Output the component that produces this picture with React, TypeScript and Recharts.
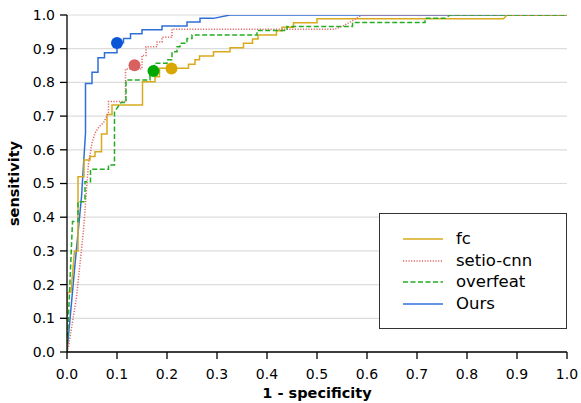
import React from 'react';
import { ComposedChart, Line, Scatter, XAxis, YAxis, CartesianGrid, Legend } from 'recharts';

const axisTicks = [0, 0.1, 0.2, 0.3, 0.4, 0.5, 0.6, 0.7, 0.8, 0.9, 1.0];

const oursRoc: [number, number][] = [
  [0, 0], [0.016, 0.26], [0.029, 0.46], [0.037, 0.65], [0.037, 0.797], [0.05, 0.797], [0.05, 0.83],
  [0.062, 0.83], [0.062, 0.873], [0.075, 0.873], [0.075, 0.888], [0.1, 0.888], [0.1, 0.918],
  [0.113, 0.918], [0.113, 0.93], [0.127, 0.93], [0.127, 0.944], [0.15, 0.944], [0.15, 0.956],
  [0.19, 0.956], [0.19, 0.967], [0.24, 0.967], [0.24, 0.979], [0.266, 0.979], [0.266, 0.99],
  [0.293, 0.99], [0.326, 1.0], [1, 1],
];

const fcRoc: [number, number][] = [
  [0, 0], [0, 0.175], [0.008, 0.178], [0.015, 0.3], [0.022, 0.3], [0.022, 0.52], [0.034, 0.52],
  [0.034, 0.57], [0.046, 0.57], [0.046, 0.58], [0.056, 0.58], [0.056, 0.594], [0.069, 0.594],
  [0.069, 0.647], [0.08, 0.647], [0.08, 0.705], [0.09, 0.705], [0.09, 0.733], [0.151, 0.733],
  [0.151, 0.802], [0.176, 0.802], [0.176, 0.817], [0.185, 0.817], [0.185, 0.842], [0.243, 0.842],
  [0.243, 0.854], [0.256, 0.854], [0.256, 0.867], [0.265, 0.867], [0.265, 0.878], [0.293, 0.878],
  [0.293, 0.891], [0.326, 0.891], [0.326, 0.903], [0.353, 0.903], [0.353, 0.916], [0.371, 0.916],
  [0.371, 0.929], [0.382, 0.929], [0.382, 0.941], [0.419, 0.941], [0.419, 0.953], [0.43, 0.953],
  [0.43, 0.964], [0.453, 0.964], [0.453, 0.977], [0.5, 0.977], [0.5, 0.989], [0.873, 0.989],
  [0.88, 1], [1, 1],
];

const setioRoc: [number, number][] = [
  [0, 0], [0.003, 0.015], [0.019, 0.163], [0.033, 0.362], [0.043, 0.56], [0.05, 0.62], [0.056, 0.65],
  [0.065, 0.67], [0.073, 0.68], [0.083, 0.71], [0.083, 0.743], [0.117, 0.743], [0.117, 0.84],
  [0.15, 0.84], [0.15, 0.88], [0.158, 0.88], [0.158, 0.906], [0.18, 0.906], [0.18, 0.92],
  [0.19, 0.92], [0.19, 0.934], [0.21, 0.934], [0.21, 0.958], [0.536, 0.958], [0.55, 0.966],
  [0.565, 0.978], [0.59, 1], [1, 1],
];

const overfeatRoc: [number, number][] = [
  [0, 0], [0.011, 0.387], [0.022, 0.387], [0.022, 0.446], [0.036, 0.446], [0.036, 0.505],
  [0.047, 0.505], [0.047, 0.542], [0.083, 0.542], [0.083, 0.555], [0.095, 0.555], [0.095, 0.713],
  [0.108, 0.74], [0.118, 0.74], [0.118, 0.807], [0.166, 0.807], [0.166, 0.835], [0.175, 0.835],
  [0.175, 0.857], [0.2, 0.857], [0.2, 0.867], [0.21, 0.867], [0.21, 0.891], [0.22, 0.891],
  [0.22, 0.906], [0.226, 0.906], [0.226, 0.916], [0.24, 0.916], [0.24, 0.93], [0.25, 0.93],
  [0.25, 0.941], [0.38, 0.941], [0.38, 0.954], [0.44, 0.954], [0.44, 0.966], [0.571, 0.966],
  [0.571, 0.978], [0.716, 0.978], [0.716, 0.99], [0.756, 0.99], [0.766, 1], [1, 1],
];

const operatingPoints: { name: string; x: number; y: number }[] = [
  { name: 'Ours', x: 0.1, y: 0.917 },
  { name: 'setio-cnn', x: 0.135, y: 0.851 },
  { name: 'overfeat', x: 0.173, y: 0.834 },
  { name: 'fc', x: 0.209, y: 0.841 },
];

const toPts = (a: [number, number][]) => a.map(([x, y]) => ({ x, y }));

type S = { name: string; roc: [number, number][]; color: string; dot: string; dash?: string };
const drawOrder: S[] = [
  { name: 'Ours', roc: oursRoc, color: '#2f6fd8', dot: '#0a55d6' },
  { name: 'fc', roc: fcRoc, color: '#d8aa1c', dot: '#d9a800' },
  { name: 'setio-cnn', roc: setioRoc, color: '#e06a6a', dot: '#d8605e', dash: '1.2 1.5' },
  { name: 'overfeat', roc: overfeatRoc, color: '#22ad22', dot: '#00a800', dash: '5 2.5' },
];
const legendOrder = ['fc', 'setio-cnn', 'overfeat', 'Ours'];

const renderLegend = () => (
  <div
    style={{
      boxSizing: 'border-box',
      width: 188,
      height: 116,
      border: '1px solid #333',
      background: '#fff',
      padding: '14px 0 0 23px',
      fontFamily: 'DejaVu Sans',
    }}
  >
    {legendOrder.map((n) => {
      const s = drawOrder.find((d) => d.name === n)!;
      return (
        <div key={n} style={{ display: 'flex', alignItems: 'center', height: 21.7 }}>
          <svg width={40} height={4} style={{ display: 'block' }}>
            <line x1={0} y1={2} x2={40} y2={2} stroke={s.color} strokeWidth={1.5} strokeDasharray={s.dash} />
          </svg>
          <span style={{ marginLeft: 13, fontSize: 16.5, lineHeight: '21.7px', color: '#000' }}>{n}</span>
        </div>
      );
    })}
  </div>
);

export default function App() {
  return (
    <div style={{ position: 'absolute', left: 0, top: 0, fontFamily: 'DejaVu Sans' }}>
      <ComposedChart width={581} height={403} margin={{ top: 15, right: 14, bottom: 11, left: 17 }}>
        <CartesianGrid vertical={false} stroke="#dcdcdc" strokeWidth={1.2} />
        <XAxis
          dataKey="x"
          type="number"
          domain={[0, 1]}
          ticks={axisTicks}
          tickFormatter={(v: number) => v.toFixed(1)}
          height={40}
          tickSize={7}
          tickMargin={10}
          stroke="#000"
          strokeWidth={1.3}
          tick={{ fill: '#000', fontSize: 14 }}
          allowDataOverflow
          label={(props: any) => {
            const vb = props.viewBox || { x: 67, y: 352, width: 500 };
            return (
              <text x={vb.x + vb.width / 2} y={vb.y + 46} textAnchor="middle" fontSize={14.5} fontWeight="bold" fill="#000">
                1 - specificity
              </text>
            );
          }}
        />
        <YAxis
          type="number"
          domain={[0, 1]}
          ticks={axisTicks}
          tickFormatter={(v: number) => v.toFixed(1)}
          width={50}
          tickSize={7}
          tickMargin={5}
          stroke="#000"
          strokeWidth={1.3}
          tick={{ fill: '#000', fontSize: 14 }}
          allowDataOverflow
          label={(props: any) => {
            const vb = props.viewBox || { x: 17, y: 15, height: 337 };
            const cx = vb.x + 2;
            const cy = vb.y + vb.height / 2;
            return (
              <text x={cx} y={cy} transform={`rotate(-90, ${cx}, ${cy})`} textAnchor="middle" fontSize={14.5} fontWeight="bold" fill="#000">
                sensitivity
              </text>
            );
          }}
        />
        {drawOrder.map((s) => (
          <Line
            key={s.name}
            data={toPts(s.roc)}
            dataKey="y"
            name={s.name}
            type="linear"
            stroke={s.color}
            strokeWidth={1.5}
            strokeDasharray={s.dash}
            dot={false}
            activeDot={false}
            isAnimationActive={false}
          />
        ))}
        {drawOrder.map((s) => (
          <Scatter
            key={'p-' + s.name}
            data={operatingPoints.filter((p) => p.name === s.name)}
            dataKey="y"
            fill={s.dot}
            isAnimationActive={false}
            shape={(p: any) => <circle cx={p.cx} cy={p.cy} r={6} fill={s.dot} />}
          />
        ))}
        <Legend
          content={renderLegend}
          layout="vertical"
          align="center"
          verticalAlign="middle"
          width={188}
          height={116}
          wrapperStyle={{ left: 379, top: 213, width: 188, height: 116 }}
        />
      </ComposedChart>
    </div>
  );
}
